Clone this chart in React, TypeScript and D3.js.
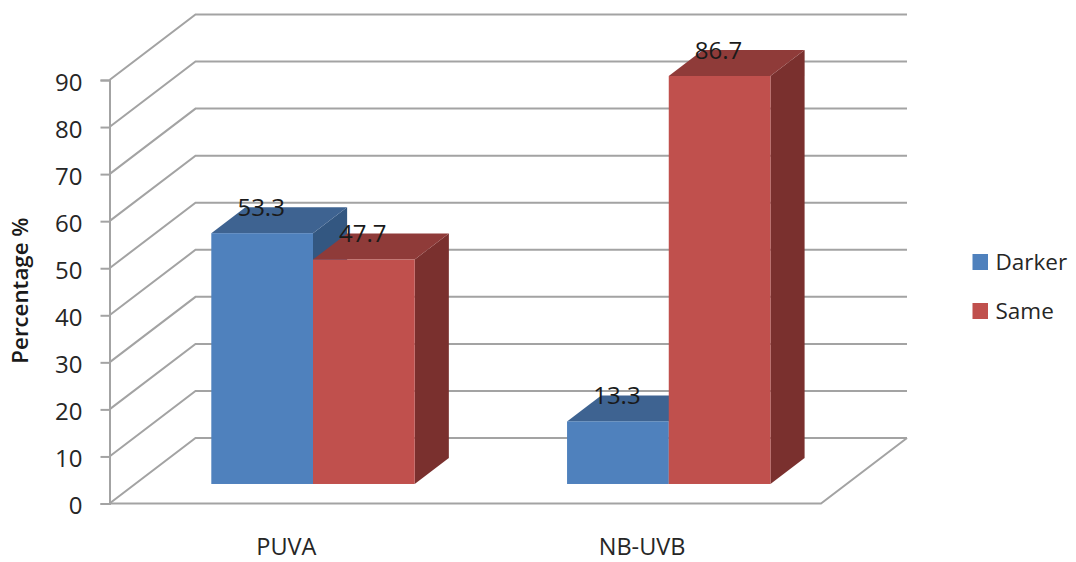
import { useEffect, useRef } from "react";
import * as d3 from "d3";

const categories = ["PUVA", "NB-UVB"];
const seriesNames = ["Darker", "Same"];
const darker = [53.3, 13.3];
const same = [47.7, 86.7];
const yTicks = [0, 10, 20, 30, 40, 50, 60, 70, 80, 90];

const faces = [
  { front: "#4f81bd", top: "#3e6391", side: "#335781" },
  { front: "#c0504d", top: "#8f3b39", side: "#7a302e" },
];
const font = "'Open Sans', sans-serif";
const textColor = "#262626";
const gridColor = "#a3a3a3";

const App: React.FC = () => {
  const ref = useRef<SVGSVGElement>(null);

  useEffect(() => {
    const svg = d3.select(ref.current);
    svg.selectAll("*").remove();

    // front plane of the 3d box
    const y = d3.scaleLinear().domain([0, 90]).range([503.5, 80]);
    const x = d3.scaleBand<string>().domain(categories).range([109.5, 821]);
    const barWidth = 101.7;
    const xSeries = d3.scaleBand<string>().domain(seriesNames).range([-barWidth, barWidth]);

    // depth of the box, and where the bars sit in it
    const wallDx = 86;
    const wallDy = -65.5;
    const barStart = 0.298;
    const barDepth = 0.397;
    const px = (t: number) => wallDx * t;
    const py = (t: number) => wallDy * t;
    const line = d3.line();

    // walls: grid lines run back from the axis then along the back wall
    const grid = svg.append("g").attr("fill", "none").attr("stroke", gridColor).attr("stroke-width", 2);
    yTicks.forEach(t => {
      grid.append("path").attr("d", line([
        [109.5, y(t)],
        [109.5 + wallDx, y(t) + wallDy],
        [907, y(t) + wallDy],
      ]));
    });
    // floor front and right edge
    grid.append("path").attr("d", line([
      [109.5, y(0)],
      [821, y(0)],
      [907, y(0) + wallDy],
    ]));

    // axis with its tick marks
    const axis = svg.append("g")
      .attr("transform", "translate(109.5,0)")
      .call(d3.axisLeft(y).tickValues(yTicks).tickSize(9).tickPadding(18));
    axis.selectAll("line").attr("stroke", gridColor).attr("stroke-width", 2);
    axis.select(".domain").attr("stroke", gridColor).attr("stroke-width", 2);
    axis.selectAll("text")
      .attr("dy", "0.42em")
      .attr("font-family", font)
      .attr("font-size", 24)
      .attr("fill", textColor);

    // bars, back to front per category so the red covers the blue side
    const values = [darker, same];
    const labels: { x: number; y: number; text: string }[] = [];
    categories.forEach((cat, c) => {
      seriesNames.forEach((name, s) => {
        const left = (x(cat) as number) + x.bandwidth() / 2 + (xSeries(name) as number) + px(barStart);
        const right = left + xSeries.bandwidth();
        const bottom = y(0) + py(barStart);
        const top = y(values[s][c]) + py(barStart);
        const dx = px(barDepth);
        const dy = py(barDepth);
        const g = svg.append("g");
        g.append("path")
          .attr("fill", faces[s].side)
          .attr("d", line([[right, top], [right + dx, top + dy], [right + dx, bottom + dy], [right, bottom]]) + "Z");
        g.append("path")
          .attr("fill", faces[s].top)
          .attr("d", line([[left, top], [left + dx, top + dy], [right + dx, top + dy], [right, top]]) + "Z");
        g.append("rect")
          .attr("x", left)
          .attr("y", top)
          .attr("width", right - left)
          .attr("height", bottom - top)
          .attr("fill", faces[s].front);
        labels.push({ x: (left + right) / 2 - 1, y: top + dy, text: String(values[s][c]) });
      });
    });

    // data labels
    svg.append("g")
      .selectAll("text")
      .data(labels)
      .join("text")
      .attr("x", d => d.x)
      .attr("y", d => d.y + 8.5)
      .attr("text-anchor", "middle")
      .attr("font-family", font)
      .attr("font-size", 24)
      .attr("fill", "#1a1a1a")
      .text(d => d.text);

    // category labels
    svg.append("g")
      .selectAll("text")
      .data(categories)
      .join("text")
      .attr("x", d => (x(d) as number) + x.bandwidth() / 2 - 1)
      .attr("y", 555)
      .attr("text-anchor", "middle")
      .attr("font-family", font)
      .attr("font-size", 23.5)
      .attr("fill", textColor)
      .text(d => d);

    // y axis title
    svg.append("text")
      .attr("transform", "translate(28,290.5) rotate(-90)")
      .attr("text-anchor", "middle")
      .attr("font-family", font)
      .attr("font-size", 22.3)
      .attr("font-weight", 600)
      .attr("fill", "#1a1a1a")
      .text("Percentage %");

    // legend
    const legend = svg.append("g")
      .selectAll("g")
      .data(seriesNames)
      .join("g")
      .attr("transform", (_, i) => `translate(972.5,${254 + i * 49})`);
    legend.append("rect")
      .attr("width", 15.5)
      .attr("height", 16)
      .attr("fill", (_, i) => faces[i].front);
    legend.append("text")
      .attr("x", 23)
      .attr("y", 16)
      .attr("font-family", font)
      .attr("font-size", 22.5)
      .attr("fill", textColor)
      .text(d => d);
  }, []);

  return (
    <svg
      ref={ref}
      width={1076}
      height={562}
      style={{ position: "absolute", left: 0, top: 0, background: "#fff" }}
    />
  );
};

export default App;
